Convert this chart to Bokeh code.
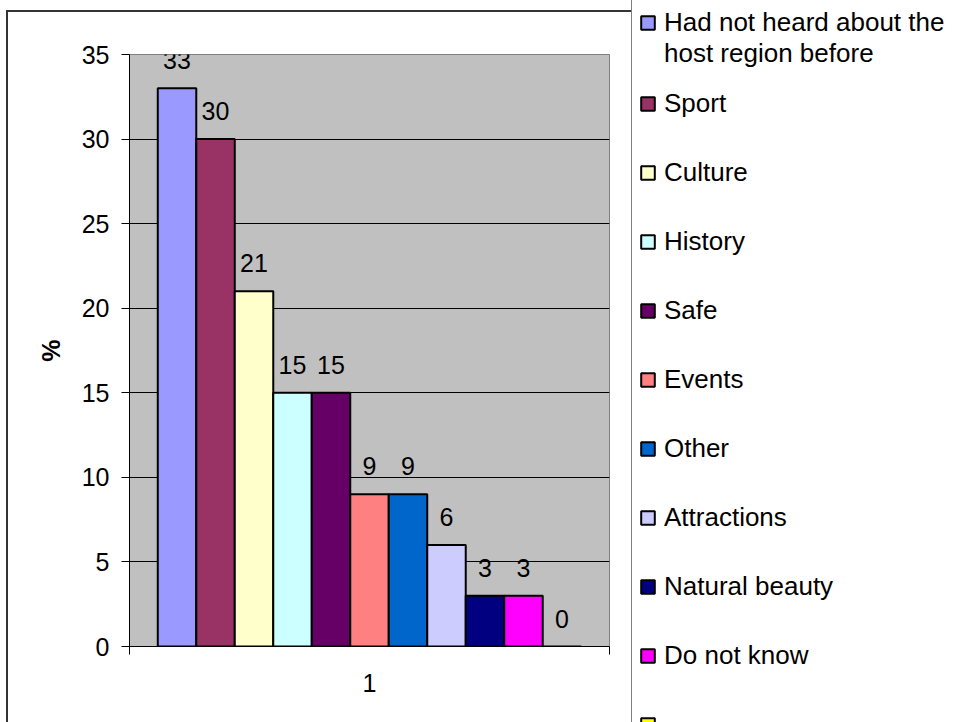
from bokeh.plotting import figure
from bokeh.models import (Range1d, FixedTicker, Legend, LegendItem,
                          LabelSet, ColumnDataSource)
from bokeh.core.properties import value
from bokeh.embed import file_html
from bokeh.resources import INLINE

# ---- data ----
series = ["Had not heard about the\nhost region before", "Sport", "Culture", "History", "Safe",
          "Events", "Other", "Attractions", "Natural beauty", "Do not know", ""]
values = [33, 30, 21, 15, 15, 9, 9, 6, 3, 3, 0]
colors = ["#9999FF", "#993366", "#FFFFCC", "#CCFFFF", "#660066", "#FF8080", "#0066CC",
          "#CCCCFF", "#000080", "#FF00FF", "#FFFF00"]
category = 1
y_ticks = [0, 5, 10, 15, 20, 25, 30, 35]
y_label = "%"

FONT = "Liberation Sans"
FS = "25px"
LFS = "26px"

n = len(values)
bw = 0.0802
xs = [category + (i - (n - 1) / 2) * bw for i in range(n)]

src = ColumnDataSource(dict(x=xs, top=values, color=colors,
                            txt=[str(v) for v in values]))

p = figure(frame_width=480, frame_height=592, x_range=Range1d(0.5, 1.5), y_range=Range1d(0, 35),
           output_backend="svg", toolbar_location=None,
           min_border_left=121, min_border_right=0, min_border_top=42, min_border_bottom=76)
p.styles = {"margin-left": "6px", "margin-top": "10px",
            "border-left": "2px solid #333333", "border-top": "2px solid #333333"}
p.background_fill_color = "#C0C0C0"
p.border_fill_color = "white"
p.outline_line_color = "#808080"
p.outline_line_width = 1

r = p.vbar(x="x", top="top", width=bw, fill_color="color", line_color="black",
           line_width=2, source=src)

labels = LabelSet(x="x", y="top", text="txt", source=src, y_offset=28,
                  text_align="center", text_baseline="middle",
                  text_font=value(FONT), text_font_size=FS, text_color="black")
p.add_layout(labels)

# axes
p.xaxis.ticker = FixedTicker(ticks=[category], minor_ticks=[0.5, 1.5])
p.xaxis.major_tick_out = 0
p.xaxis.major_tick_in = 0
p.xaxis.minor_tick_out = 8
p.xaxis.minor_tick_in = 0
p.xaxis.major_label_standoff = 19
p.xaxis.major_label_text_font = FONT
p.xaxis.major_label_text_font_size = FS
p.xaxis.major_label_text_color = "black"
p.xaxis.axis_line_color = "black"
p.xaxis.minor_tick_line_color = "black"

p.yaxis.ticker = FixedTicker(ticks=y_ticks)
p.yaxis.major_tick_out = 8
p.yaxis.major_tick_in = 0
p.yaxis.minor_tick_out = 0
p.yaxis.minor_tick_in = 0
p.yaxis.major_label_standoff = 12
p.yaxis.major_label_text_font = FONT
p.yaxis.major_label_text_font_size = FS
p.yaxis.major_label_text_color = "black"
p.yaxis.axis_line_color = "black"
p.yaxis.major_tick_line_color = "black"
p.yaxis.axis_label = y_label
p.yaxis.axis_label_text_font = FONT
p.yaxis.axis_label_text_font_size = FS
p.yaxis.axis_label_text_font_style = "bold"
p.yaxis.axis_label_text_color = "black"
p.yaxis.axis_label_standoff = 14

p.xgrid.grid_line_color = None
p.ygrid.ticker = FixedTicker(ticks=y_ticks)
p.ygrid.grid_line_color = "black"
p.ygrid.grid_line_width = 1

# legend (right panel); first label gets a leading blank line so its first
# text line sits level with the swatch
items = []
for i, name in enumerate(series):
    lab = "\n" + name if "\n" in name else name
    items.append(LegendItem(label=value(lab), renderers=[r], index=i))
legend = Legend(items=items, location=(22, -120.5), border_line_color="black",
                border_line_width=1, background_fill_color="white", background_fill_alpha=1,
                padding=7, spacing=0, label_height=69, label_width=283,
                glyph_height=17, glyph_width=17,
                label_standoff=8, label_text_font=FONT, label_text_font_size=LFS,
                label_text_line_height=0.88, label_text_color="black",
                margin=0)
p.add_layout(legend, "right")

open("out.html", "w").write(file_html(p, INLINE))
